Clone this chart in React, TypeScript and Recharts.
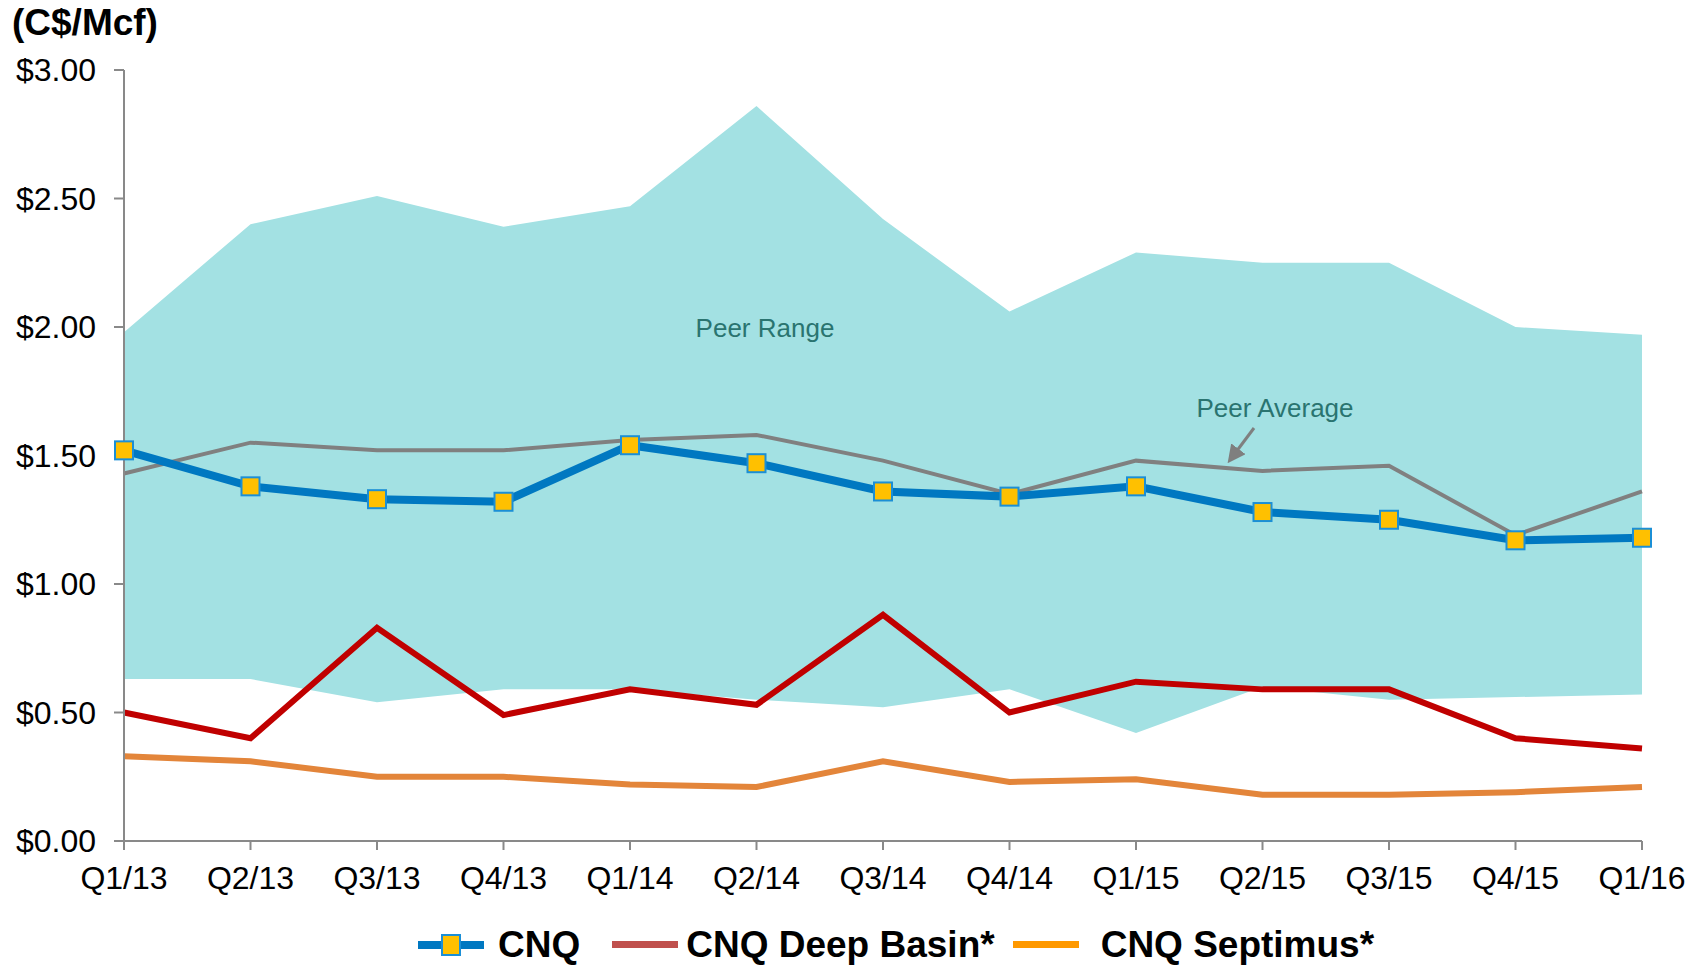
import {
  ComposedChart,
  Area,
  Line,
  XAxis,
  YAxis,
  Legend,
} from "recharts";

const quarters = [
  "Q1/13", "Q2/13", "Q3/13", "Q4/13",
  "Q1/14", "Q2/14", "Q3/14", "Q4/14",
  "Q1/15", "Q2/15", "Q3/15", "Q4/15", "Q1/16",
];

const cnq = [1.52, 1.38, 1.33, 1.32, 1.54, 1.47, 1.36, 1.34, 1.38, 1.28, 1.25, 1.17, 1.18];
const peerAverage = [1.43, 1.55, 1.52, 1.52, 1.56, 1.58, 1.48, 1.35, 1.48, 1.44, 1.46, 1.19, 1.36];
const deepBasin = [0.5, 0.4, 0.83, 0.49, 0.59, 0.53, 0.88, 0.5, 0.62, 0.59, 0.59, 0.4, 0.36];
const septimus = [0.33, 0.31, 0.25, 0.25, 0.22, 0.21, 0.31, 0.23, 0.24, 0.18, 0.18, 0.19, 0.21];
const peerHigh = [1.98, 2.4, 2.51, 2.39, 2.47, 2.86, 2.42, 2.06, 2.29, 2.25, 2.25, 2.0, 1.97];
const peerLow = [0.63, 0.63, 0.54, 0.59, 0.59, 0.55, 0.52, 0.59, 0.42, 0.6, 0.55, 0.56, 0.57];

const yTicks = [0, 0.5, 1, 1.5, 2, 2.5, 3];

const data = quarters.map((q, i) => ({
  q,
  range: [peerLow[i], peerHigh[i]],
  avg: peerAverage[i],
  cnq: cnq[i],
  deep: deepBasin[i],
  sept: septimus[i],
}));

const FONT = "Arial, 'Liberation Sans', sans-serif";
const AXIS = "#898989";

function SquareDot(props: any) {
  const { cx, cy } = props;
  if (cx == null || cy == null) return null;
  return (
    <rect
      x={cx - 9}
      y={cy - 9}
      width={18}
      height={18}
      fill="#ffc000"
      stroke="#1b8fd6"
      strokeWidth={2}
    />
  );
}

function LegendContent() {
  const text = {
    fontFamily: FONT,
    fontWeight: 700,
    fontSize: 37,
    color: "#000",
    lineHeight: "40px",
  };
  return (
    <div
      style={{
        display: "flex",
        alignItems: "center",
        marginLeft: 418,
        paddingTop: 40,
      }}
    >
      <svg width={66} height={30}>
        <rect x={0} y={11} width={66} height={8} fill="#0078c1" />
        <rect x={24} y={5} width={18} height={20} fill="#ffc000" stroke="#1b8fd6" strokeWidth={2} />
      </svg>
      <span style={{ ...text, marginLeft: 14 }}>CNQ</span>
      <svg width={66} height={30} style={{ marginLeft: 32 }}>
        <rect x={0} y={11} width={66} height={7} fill="#c0504d" />
      </svg>
      <span style={{ ...text, marginLeft: 8 }}>CNQ Deep Basin*</span>
      <svg width={66} height={30} style={{ marginLeft: 18 }}>
        <rect x={0} y={11} width={66} height={7} fill="#ff9900" />
      </svg>
      <span style={{ ...text, marginLeft: 22 }}>CNQ Septimus*</span>
    </div>
  );
}

export default function App() {
  return (
    <div
      style={{
        position: "absolute",
        left: 0,
        top: 0,
        width: 1702,
        height: 965,
        background: "#fff",
        fontFamily: FONT,
      }}
    >
      <div
        style={{
          position: "absolute",
          left: 12,
          top: 0,
          fontSize: 37,
          fontWeight: 700,
          lineHeight: "46px",
          color: "#000",
        }}
      >
        (C$/Mcf)
      </div>
      <ComposedChart
        width={1702}
        height={965}
        data={data}
        margin={{ top: 70, right: 60, bottom: 0, left: 0 }}
      >
        <Area
          dataKey="range"
          type="linear"
          fill="#a3e1e3"
          fillOpacity={1}
          stroke="none"
          isAnimationActive={false}
          legendType="none"
        />
        <XAxis
          dataKey="q"
          scale="point"
          padding={{ left: 0, right: 0 }}
          axisLine={{ stroke: AXIS, strokeWidth: 2 }}
          tickLine={{ stroke: AXIS, strokeWidth: 2 }}
          tickSize={9}
          tickMargin={16}
          height={124 - 80}
          tick={{ fill: "#000", fontSize: 32, fontFamily: FONT }}
          interval={0}
        />
        <YAxis
          domain={[0, 3]}
          ticks={yTicks}
          width={124}
          axisLine={{ stroke: AXIS, strokeWidth: 2 }}
          tickLine={{ stroke: AXIS, strokeWidth: 2 }}
          tickSize={10}
          tickMargin={18}
          tick={{ fill: "#000", fontSize: 32, fontFamily: FONT }}
          tickFormatter={(v: number) => `$${v.toFixed(2)}`}
        />
        <Line
          dataKey="sept"
          type="linear"
          stroke="#e3853a"
          strokeWidth={6}
          dot={false}
          isAnimationActive={false}
        />
        <Line
          dataKey="deep"
          type="linear"
          stroke="#c00000"
          strokeWidth={6}
          dot={false}
          isAnimationActive={false}
        />
        <Line
          dataKey="avg"
          type="linear"
          stroke="#808080"
          strokeWidth={4}
          dot={false}
          isAnimationActive={false}
        />
        <Line
          dataKey="cnq"
          type="linear"
          stroke="#0078c1"
          strokeWidth={8}
          dot={<SquareDot />}
          isAnimationActive={false}
        />
        <Legend
          verticalAlign="bottom"
          height={80}
          content={() => <LegendContent />}
        />
      </ComposedChart>
      <svg
        width={1702}
        height={965}
        style={{ position: "absolute", left: 0, top: 0, pointerEvents: "none" }}
      >
        <defs>
          <marker id="ah" markerWidth="6" markerHeight="6" refX="3" refY="3" orient="auto">
            <path d="M0,0 L6,3 L0,6 z" fill="#7f7f7f" />
          </marker>
        </defs>
        <text x={765} y={337} textAnchor="middle" fontSize={26} fill="#2a7470" fontFamily={FONT}>
          Peer Range
        </text>
        <text x={1275} y={417} textAnchor="middle" fontSize={26} fill="#2a7470" fontFamily={FONT}>
          Peer Average
        </text>
        <line x1={1254} y1={428} x2={1233} y2={456} stroke="#7f7f7f" strokeWidth={3} markerEnd="url(#ah)" />
      </svg>
    </div>
  );
}
